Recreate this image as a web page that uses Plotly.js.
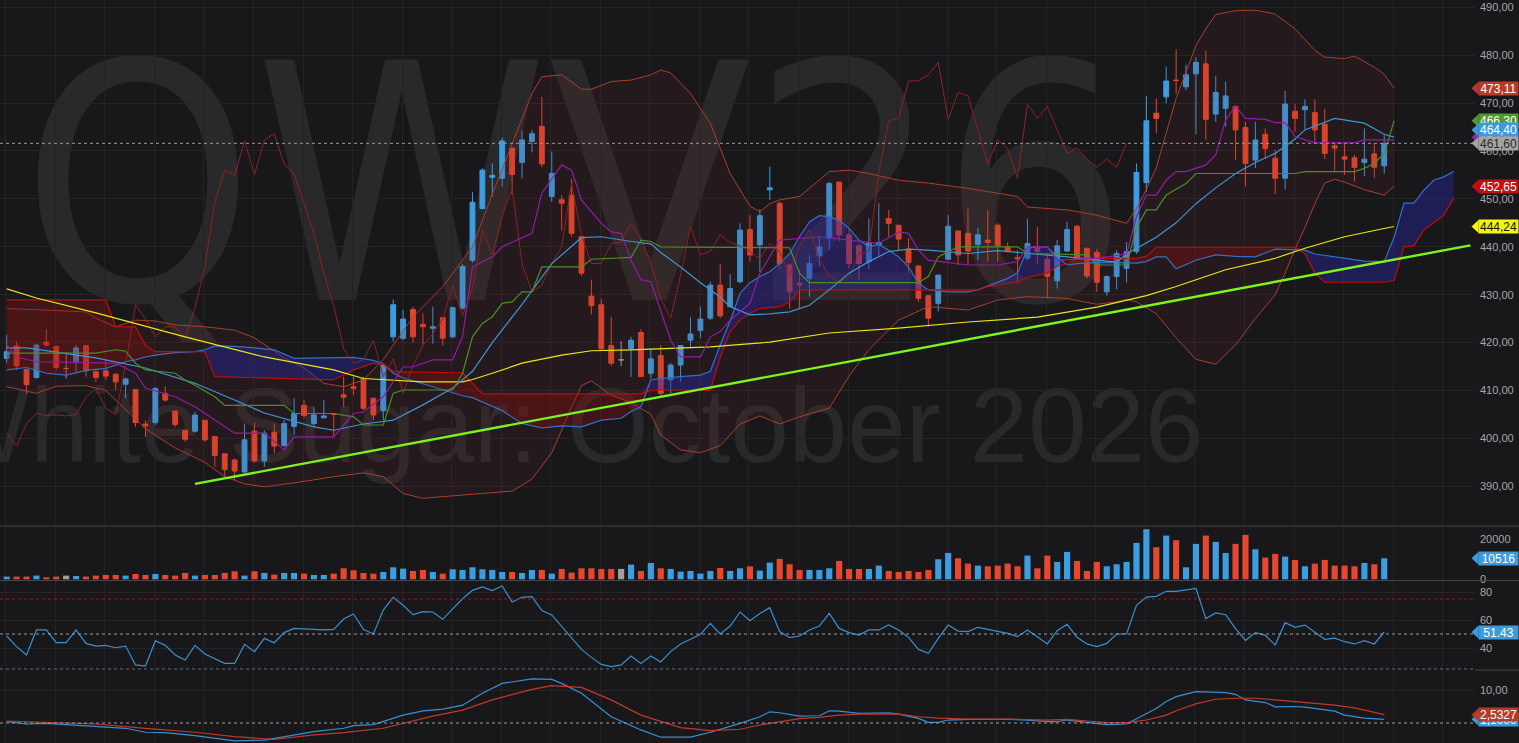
<!DOCTYPE html>
<html><head><meta charset="utf-8">
<script src="https://cdn.plot.ly/plotly-3.0.1.min.js"></script>
<style>html,body{margin:0;padding:0;background:#18181b;overflow:hidden}#chart{width:1519px;height:743px}</style>
</head><body><div id="chart"></div>
<script>
// ---------- DATA ----------
const opens=[416.7,419.3,414.4,412.7,420.1,419.2,414.6,416.0,419.4,413.9,
414.1,413.4,411.3,410.2,403.0,403.3,409.4,405.7,401.7,401.5,
403.8,400.4,396.8,395.5,393.0,401.5,395.3,401.3,398.5,402.5,
406.9,403.1,404.3,405.2,409.1,410.8,412.5,408.4,405.8,421.2,
420.9,426.9,423.8,423.0,425.2,421.2,427.2,437.2,448.0,454.5,
454.3,460.6,457.6,462.0,465.1,450.5,449.8,450.8,442.1,429.7,
427.9,419.4,416.4,418.8,422.1,413.6,417.3,412.2,415.3,420.5,
422.5,425.1,432.0,427.5,432.7,443.6,440.4,451.9,449.1,436.2,
432.4,433.4,438.1,441.8,453.5,442.5,440.2,436.9,440.4,445.9,
444.5,439.5,436.0,429.8,428.2,437.4,443.3,442.8,440.5,441.4,
444.5,439.9,437.8,437.6,439.7,437.4,432.9,439.1,444.3,439.7,
438.8,430.6,433.8,435.5,439.0,453.4,467.9,471.3,474.8,473.4,
476.1,478.2,467.7,468.9,469.3,464.9,458.1,463.5,458.5,454.3,
468.3,468.6,468.0,465.6,461.1,458.8,458.6,457.6,459.4,456.9];
const highs=[421.6,420.2,414.6,419.8,422.8,419.3,418.1,419.5,419.5,414.3,
416.4,413.6,412.7,410.2,403.8,410.7,410.9,405.7,401.7,405.6,
403.8,400.4,396.8,395.8,403.1,403.3,401.7,403.1,403.8,408.4,
408.0,406.5,408.0,405.2,412.9,412.9,412.9,408.4,415.7,429.0,
426.8,427.5,426.1,427.5,425.2,427.5,436.4,451.4,456.4,457.4,
462.8,460.6,464.2,464.4,471.3,459.9,450.8,454.2,442.1,433.1,
429.1,425.4,420.3,421.2,422.8,418.8,419.5,415.7,419.5,425.3,
427.5,432.7,436.4,434.3,444.9,446.6,447.8,456.7,449.4,436.5,
435.2,438.3,442.1,453.6,453.5,443.9,440.7,445.9,449.1,447.7,
444.5,441.8,436.2,429.8,434.1,446.6,443.3,448.0,443.9,447.7,
444.9,440.9,439.3,445.9,444.1,438.6,441.4,445.2,444.5,439.7,
439.5,434.0,439.3,441.0,457.4,471.5,471.0,477.6,481.2,478.0,
479.6,480.9,475.7,474.5,469.6,466.1,466.1,464.7,460.3,472.5,
469.8,470.8,470.8,468.8,461.6,461.5,459.2,464.7,461.6,463.3];
const lows=[415.7,414.3,409.4,412.5,419.2,414.3,412.5,413.9,412.9,411.8,
412.2,410.1,408.4,402.4,400.4,402.8,407.7,402.4,399.3,401.2,
399.3,394.1,392.0,391.3,392.8,394.9,394.1,396.9,398.3,400.7,
404.2,402.4,404.2,400.5,406.6,409.1,405.9,403.8,403.8,420.2,
420.5,420.0,419.5,419.8,419.3,420.9,426.8,436.7,447.8,450.5,
452.6,450.8,454.3,459.7,456.6,449.4,443.4,442.1,433.9,425.9,
418.5,415.1,415.1,412.8,412.8,412.5,408.7,409.4,411.8,419.0,
420.9,424.7,425.1,427.5,432.4,436.9,434.8,449.8,435.5,427.1,
427.1,429.6,435.8,439.3,441.1,435.5,433.1,435.2,437.9,442.1,
439.3,434.6,428.5,423.3,426.5,437.2,436.2,436.2,437.2,436.9,
436.9,439.0,432.4,437.2,436.5,429.2,431.3,439.0,437.2,433.4,
430.6,429.8,431.1,432.5,438.5,451.5,463.7,470.0,472.0,472.7,
463.5,462.4,466.1,465.1,458.1,452.6,456.4,458.3,451.0,451.9,
464.0,464.4,461.6,458.3,455.9,455.0,453.6,454.8,454.4,455.2];
const closes=[418.1,415.1,411.2,419.5,419.5,414.8,414.6,418.9,414.1,412.7,
413.0,411.8,412.4,403.3,402.6,410.4,408.0,402.9,399.8,404.9,
399.7,396.4,393.5,393.2,399.7,395.3,401.1,398.4,403.1,405.2,
404.8,404.9,404.7,405.0,408.6,410.4,406.3,404.9,415.3,427.9,
424.9,421.2,423.3,423.3,420.9,427.3,435.9,449.3,456.0,454.9,
462.1,455.1,462.3,463.6,457.3,455.3,449.1,442.8,434.5,427.7,
418.7,415.7,416.4,420.5,412.9,416.6,409.4,415.3,419.4,421.8,
424.9,432.0,425.6,431.3,443.5,438.3,446.5,452.3,436.5,430.6,
432.0,436.5,440.0,453.2,442.5,436.5,436.5,440.7,440.9,444.9,
441.6,436.7,429.2,425.1,434.1,444.3,438.3,439.1,442.5,440.9,
440.2,439.0,437.5,440.7,439.0,433.8,440.2,443.6,437.4,433.9,
432.6,433.8,438.6,439.0,455.5,466.3,466.8,474.6,474.7,475.9,
478.5,466.6,472.2,471.5,464.4,457.4,462.3,460.5,454.3,469.8,
466.8,469.3,464.4,459.5,460.6,458.3,456.6,458.3,456.6,461.6];
const volumes=[1340,1340,1340,1840,1000,1340,1840,1670,1340,1840,
2170,2170,1840,2670,2170,2670,2170,1840,3170,1840,
2170,2170,3170,4010,1840,4010,3170,2340,3170,3170,
2840,2170,2170,2840,5510,4510,3170,2840,3670,6010,
5340,4180,4680,3670,2840,5010,4680,6010,5010,4680,
3670,3670,3170,4680,4680,2840,5180,3340,5510,5510,
5180,5180,5180,7350,4180,8180,5510,5180,3840,4180,
2840,4180,5680,4180,5510,6510,4340,8350,10190,7520,
4680,4680,4680,5510,9190,5180,5180,5180,6850,4180,
3670,4180,3670,4680,10020,13190,10520,7850,6850,6510,
6850,7850,6510,11860,5510,11860,8680,13690,9190,4180,
8680,6510,7520,8680,18200,25050,16030,21880,19540,6010,
17700,21880,18700,13190,17700,22210,15030,10860,12690,11360,
9690,6510,7850,9690,6850,6850,6510,8180,7520,10516];
// lagging span (drawn 26 bars back)
const chikouValues=[401.1,398.4,403.1,405.2,404.8,404.9,404.7,405.0,408.6,410.4,
406.3,404.9,415.3,427.9,424.9,421.2,423.3,423.3,420.9,427.3,
435.9,449.3,456.0,454.9,462.1,455.1,462.3,463.6,457.3,455.3,
449.1,442.8,434.5,427.7,418.7,415.7,416.4,420.5,412.9,416.6,
409.4,415.3,419.4,421.8,424.9,432.0,425.6,431.3,443.5,438.3,
446.5,452.3,436.5,430.6,432.0,436.5,440.0,453.2,442.5,436.5,
436.5,440.7,440.9,444.9,441.6,436.7,429.2,425.1,434.1,444.3,
438.3,439.1,442.5,440.9,440.2,439.0,437.5,440.7,439.0,433.8,
440.2,443.6,437.4,433.9,432.6,433.8,438.6,439.0,455.5,466.3,
466.8,474.6,474.7,475.9,478.5,466.6,472.2,471.5,464.4,457.4,
462.3,460.5,454.3,469.8,466.8,469.3,464.4,459.5,460.6,458.3,
456.6,458.3,456.6,461.6];
const rsiValues=[48.6,41.0,35.0,52.9,52.9,43.8,43.8,52.9,43.3,41.4,
41.9,40.2,41.4,27.9,27.1,45.2,41.9,35.0,31.4,41.9,
35.7,32.6,29.0,29.0,42.6,37.4,46.9,43.8,51.0,54.0,
53.6,53.6,52.9,53.3,60.7,64.3,53.3,50.0,67.1,76.2,
70.5,63.8,66.0,65.7,60.5,67.9,75.2,81.2,83.6,81.0,
84.3,72.9,76.2,76.7,66.7,63.6,55.2,47.4,39.0,33.3,
28.3,26.7,27.9,34.3,29.0,34.3,30.0,37.4,42.9,46.2,
49.8,57.6,50.0,55.7,65.7,59.5,64.6,68.8,51.7,47.4,
48.6,52.9,55.7,64.8,54.0,51.0,49.3,52.9,52.9,56.4,
52.9,47.6,39.0,36.2,46.9,56.4,52.1,51.7,54.8,53.3,
51.9,50.5,48.1,52.9,48.1,42.9,52.4,56.9,47.6,42.9,
41.0,43.3,50.0,50.0,70.5,76.4,76.9,80.5,80.5,81.4,
82.6,61.0,65.0,63.8,53.8,45.5,51.0,49.0,42.1,58.1,
54.8,56.4,51.2,46.2,47.1,44.5,42.9,45.2,42.9,51.43];
const macdIdx=[0,2,4,7,9,12,14,16,19,21,23,26,29,31,34,35,37,38,40,42,44,46,48,50,53,55,56,58,61,64,66,69,71,74,76,77,78,80,82,83,84,86,88,89,90,92,93,94,95,97,101,103,105,106,107,109,111,113,115,116,117,118,120,121,123,124,125,127,128,130,131,134,135,137,139];
const macdValues=[0.4,-0.3,-0.1,-0.6,-1.1,-1.6,-2.8,-2.9,-3.8,-4.6,-5.4,-5.2,-3.6,-2.6,-1.6,-0.8,-0.5,0.4,2.4,3.7,4.2,5.4,9.0,12.0,13.4,13.2,12.0,9.0,1.9,-2.1,-4.3,-4.3,-2.8,-0.1,1.9,3.4,3.1,2.1,2.2,3.7,3.6,2.9,2.9,3.1,2.7,1.4,0.2,0.2,0.9,1.1,1.1,0.9,0.4,0.4,0.9,0.2,-0.5,-0.3,2.9,4.4,6.5,8.0,9.5,9.4,9.2,8.7,7.0,6.2,4.9,5.0,4.8,3.6,2.4,1.5,1.1];
const signalIdx=[0,4,9,14,19,23,27,31,34,38,41,43,46,49,53,55,58,61,64,68,71,74,76,78,80,82,84,86,88,90,92,94,97,101,105,107,109,111,113,115,117,118,120,122,124,126,128,131,134,136,138,139];
const signalValues=[0.6,0.1,-0.3,-1.6,-2.8,-4.1,-5.0,-3.6,-2.9,-1.6,0.7,2.1,3.9,7.0,10.2,11.3,10.8,7.0,2.4,-1.4,-2.3,-1.9,-0.6,0.4,1.3,1.7,2.4,2.7,2.8,2.7,1.9,1.5,1.2,1.2,0.9,1.1,0.6,0.1,0.1,0.9,2.4,3.7,5.8,7.2,7.5,7.5,7.0,6.3,5.4,4.6,3.1,2.53];
const bbUpIdx=[0,3,5,8,9,11,13,15,17,20,23,25,28,30,32,34,36,38,41,44,47,49,51,53,54,56,58,59,61,63,65,66,67,69,71,73,75,76,77,78,80,83,85,87,90,93,97,100,102,103,107,110,113,114,115,116,117,118,119,120,121,122,124,126,128,130,132,133,135,136,138,139,140];
const bbUpValues=[427.1,426.9,426.7,426.4,425.1,423.3,424.7,424.5,423.7,423.3,422.6,421.0,416.8,414.7,411.5,410.8,412.2,416.5,425.4,431.7,440.0,451.0,461.6,472.0,475.5,475.9,472.9,472.9,474.5,474.8,475.9,476.9,476.3,472.0,465.8,455.3,448.5,447.3,449.0,449.8,450.5,455.7,456.0,455.3,453.9,453.3,452.2,451.2,450.5,448.3,447.7,446.6,444.9,448.0,452.0,456.5,464.0,471.0,476.5,482.0,485.5,488.5,489.3,489.4,488.6,485.5,481.0,479.6,479.3,479.8,477.5,476.0,473.11];
const bbLoIdx=[0,3,5,8,10,12,14,17,20,22,24,26,29,33,36,38,40,42,45,48,51,53,55,57,58,59,61,63,65,66,68,70,72,74,76,78,80,83,85,87,90,93,97,100,103,107,110,112,113,114,116,118,120,122,124,126,127,128,129,130,131,132,133,134,135,136,137,139,140];
const bbLoValues=[410.8,409.4,410.9,411.0,410.0,406.0,402.0,398.0,395.0,392.0,390.5,389.9,390.7,392.0,392.8,392.0,388.5,387.5,388.0,388.5,389.0,391.5,397.0,406.5,411.0,412.0,409.0,407.5,405.0,400.7,397.6,397.0,398.5,403.0,404.7,403.0,404.5,406.3,413.0,418.5,424.7,427.5,426.8,428.9,429.6,429.2,428.0,428.5,429.0,428.5,426.0,421.0,416.5,415.5,419.5,425.0,427.5,430.0,434.5,439.5,444.0,449.0,453.3,454.1,453.5,452.7,451.9,450.8,452.65];
const smaIdx=[0,2,5,9,14,19,23,26,31,33,36,39,42,45,47,49,52,55,58,60,63,65,66,68,70,71,72,73,75,77,79,81,83,85,87,89,91,93,97,100,103,107,110,112,113,116,118,120,122,124,126,128,130,131,134,137,139,140];
const smaValues=[418.9,418.9,418.0,416.8,414.7,411.5,408.0,405.3,402.4,401.7,403.0,403.8,407.0,410.5,414.0,420.0,428.0,436.5,441.9,442.1,441.1,440.6,438.8,435.8,432.5,431.0,429.5,427.5,425.8,426.0,426.4,427.8,431.0,434.5,436.9,439.0,439.5,439.3,438.6,439.2,438.7,437.9,437.2,436.8,438.5,442.0,445.0,449.0,452.3,455.3,457.6,459.5,462.5,464.4,466.8,465.8,463.5,462.9];
const tenkanIdx=[0,1,3,11,13,14,17,19,23,26,28,29,33,35,36,38,40,41,43,45,46,47,49,50,53,54,56,57,58,60,61,62,63,64,65,67,68,70,71,72,73,75,76,77,78,82,85,88,90,91,92,93,97,100,102,103,105,106,110,113,114,115,116,117,118,119,121,122,123,124,125,127,128,129,130,132,136,137,140];
const tenkanValues=[419.5,417.0,416.0,415.7,413.6,410.5,408.7,406.6,401.1,401.1,397.6,400.3,400.3,405.2,405.5,408.7,414.9,414.9,416.4,416.4,421.2,435.8,437.9,440.0,442.8,451.2,457.1,456.0,449.8,444.9,443.1,442.8,437.2,433.1,432.7,420.5,417.0,417.0,421.2,422.3,424.7,428.2,434.5,437.9,441.4,442.1,441.4,440.7,443.1,442.8,439.3,437.2,436.2,436.2,436.9,440.0,440.0,437.2,437.6,438.5,446.3,450.8,450.8,453.9,455.7,455.7,457.1,459.2,466.5,469.4,466.8,466.6,465.9,465.9,463.0,461.7,461.7,462.3,462.3];
const kijunIdx=[0,9,11,12,13,14,17,18,19,21,22,28,29,33,35,36,38,39,40,45,46,47,48,49,50,51,52,53,54,58,59,63,64,65,66,79,80,81,92,93,94,96,102,103,109,110,113,114,115,116,117,119,120,130,131,136,137,138,139,140];
const kijunValues=[417.8,417.8,418.5,418.2,415.7,414.3,413.6,412.2,411.1,408.7,406.9,406.9,405.2,405.2,404.5,402.8,402.8,409.4,410.1,410.1,413.6,421.2,424.0,425.4,428.2,428.5,430.6,430.6,435.8,435.8,437.4,437.8,441.4,441.1,440.0,439.8,434.5,432.5,432.5,433.8,437.9,440.0,440.0,438.6,438.3,436.2,436.2,444.0,447.7,447.7,450.8,453.2,455.3,455.3,455.7,455.7,456.4,457.4,459.5,466.3];
const longMaIdx=[0,3,9,18,26,33,36,39,42,46,47,49,52,56,59,63,68,71,77,83,90,97,104,110,115,118,123,128,131,135,138,140];
const longMaValues=[431.2,429.3,426.2,421.2,417.0,414.3,412.5,412.2,411.8,411.8,412.3,413.6,415.7,417.4,418.3,418.5,418.8,419.1,420.1,422.0,423.0,424.3,425.3,427.4,429.8,431.7,435.2,437.6,439.7,442.1,443.4,444.24];
const cloudIdx=[0,2,4,6,8,10,11,12,13,14,15,17,19,20,21,23,25,27,29,31,33,35,37,38,39,40,42,44,46,47,48,50,52,54,56,58,60,62,63,64,65,66,68,70,71,72,73,74,75,76,77,78,79,80,81,82,83,84,85,86,87,88,89,90,91,92,93,95,97,98,99,100,101,102,103,104,105,106,107,108,110,112,113,114,115,116,117,118,120,122,124,126,128,130,131,132,133,135,137,139,140,141,142,143,144,145,146];
const spanA=[414.3,414.8,413.6,413.2,414.2,414.6,415.3,416.0,416.4,417.0,417.4,417.9,418.1,418.5,419.3,419.2,418.9,418.5,416.7,416.8,416.9,416.9,416.3,415.6,413.6,412.6,411.4,410.1,408.9,408.5,407.6,405.8,403.1,402.2,402.6,402.4,403.8,404.2,405.6,406.6,412.2,412.5,412.9,413.2,414.0,419.5,424.5,430.3,432.5,433.8,434.8,436.5,438.6,442.1,445.2,446.5,446.3,445.5,443.9,441.4,440.0,440.5,439.3,437.9,435.8,432.4,431.0,430.6,430.6,431.0,431.8,432.6,433.4,434.5,439.7,440.0,440.0,437.9,436.2,436.5,436.7,436.7,436.7,436.6,436.9,437.9,437.9,435.4,437.2,438.3,438.0,437.9,439.5,439.3,439.3,438.5,438.2,437.6,437.0,436.9,442.0,449.1,449.1,451.8,453.9,454.6,455.7];
const spanB=[428.9,428.9,428.9,428.9,428.9,428.9,423.3,423.3,423.3,419.5,
418.1,418.1,418.1,418.1,412.9,412.8,412.7,412.6,412.5,412.4,
412.2,414.3,415.7,415.5,414.0,413.9,413.8,413.8,413.7,411.5,
409.3,409.3,409.3,409.3,409.3,409.3,409.3,409.3,409.3,409.3,
410.0,410.1,410.1,410.1,410.0,417.0,422.3,424.7,426.1,427.1,
427.3,427.5,428.5,431.0,431.0,431.0,431.0,431.0,431.0,431.0,
431.0,431.0,431.0,431.0,431.0,431.0,431.0,431.0,431.0,431.0,
431.7,432.0,432.4,432.7,433.6,434.0,434.5,436.0,436.4,437.6,
437.6,437.6,437.6,437.6,438.0,439.9,439.9,439.9,439.9,439.9,
439.9,439.9,439.9,439.9,438.6,434.5,432.6,432.6,432.6,432.6,
433.0,440.0,440.2,443.5,445.0,446.6,450.1];
const trendIdx=[19.0,147.7];
const trendValues=[390.5,440.3];
const lastPrice=461.60;
const priceTicks=[390,400,410,420,430,440,450,460,470,480,490];
const priceTickText=['390,00','400,00','410,00','420,00','430,00','440,00','450,00','460,00','470,00','480,00','490,00'];
const volTicks=[0,20000], volTickText=['0','20000'];
const rsiTicks=[40,60,80];
const macdTicks=[10], macdTickText=['10,00'];
// right-hand value tags: [value, text, background, text colour]
const priceTags=[[473.11,'473,11','#b83b27','#ffffff'],[466.30,'466,30','#4f9a2d','#ffffff'],[462.88,'462,88','#8d2aa6','#ffffff'],[464.40,'464,40','#3b9bdb','#ffffff'],[461.60,'461,60','#a4a4a4','#2a2a2a'],[452.65,'452,65','#c51010','#ffffff'],[444.24,'444,24','#f4f40c','#111111']];
const volTag=[10516,'10516','#3b9bdb'];
const rsiTag=[51.43,'51.43','#3b9bdb'];
const macdTags=[[1.1,'1,1000','#3b9bdb'],[2.5327,'2,5327','#b83b27']];
const watermarkTicker='QWV26';
const watermarkName='White Sugar: October 2026';

// ---------- CHART ----------
const UP='#3c9de0', DN='#e5482e', DOJI='#a0a0a0';
const FONT='"Liberation Sans", Arial, sans-serif';
const idx=closes.map((_,i)=>i);
const nI=[],nO=[],nH=[],nL=[],nC=[],dI=[],dO=[],dH=[],dL=[],dC=[];
idx.forEach(i=>{ if(opens[i]===closes[i]){dI.push(i);dO.push(opens[i]);dH.push(highs[i]);dL.push(lows[i]);dC.push(closes[i]);}
 else {nI.push(i);nO.push(opens[i]);nH.push(highs[i]);nL.push(lows[i]);nC.push(closes[i]);}});
const volColors=idx.map(i=>closes[i]>opens[i]?UP:(closes[i]<opens[i]?DN:DOJI));
const cloudHi=spanA.map((a,i)=>Math.max(a,spanB[i]));

function line(x,y,color,width,yaxis,extra){return Object.assign({type:'scatter',mode:'lines',x:x,y:y,line:{color:color,width:width},xaxis:'x',yaxis:yaxis||'y',hoverinfo:'skip'},extra||{});}

const traces=[
 line(bbLoIdx,bbLoValues,'#a8402c',1),
 line(bbUpIdx,bbUpValues,'#a8402c',1,'y',{fill:'tonexty',fillcolor:'rgba(120,40,40,0.13)'}),
 line(cloudIdx,spanB,'rgba(0,0,0,0)',0),
 line(cloudIdx,cloudHi,'rgba(0,0,0,0)',0,'y',{fill:'tonexty',fillcolor:'rgba(40,40,165,0.42)'}),
 line(cloudIdx,spanA,'rgba(0,0,0,0)',0),
 line(cloudIdx,cloudHi,'rgba(0,0,0,0)',0,'y',{fill:'tonexty',fillcolor:'rgba(150,15,15,0.33)'}),
 line(cloudIdx,spanA,'#3470c8',1.2),
 line(cloudIdx,spanB,'#c00d0d',1.2),
 line(idx.slice(0,chikouValues.length),chikouValues,'#8e2222',1),
 line(longMaIdx,longMaValues,'#e8e814',1.2),
 line(smaIdx,smaValues,'#3d96d6',1.2),
 line(kijunIdx,kijunValues,'#4a8e2a',1.2),
 line(tenkanIdx,tenkanValues,'#8f1fa6',1.2),
 {type:'candlestick',x:nI,open:nO,high:nH,low:nL,close:nC,xaxis:'x',yaxis:'y',whiskerwidth:0,
  increasing:{line:{color:UP,width:1},fillcolor:UP},decreasing:{line:{color:DN,width:1},fillcolor:DN},hoverinfo:'skip'},
 {type:'candlestick',x:dI,open:dO,high:dH,low:dL,close:dC,xaxis:'x',yaxis:'y',whiskerwidth:0,
  increasing:{line:{color:DOJI,width:1},fillcolor:DOJI},decreasing:{line:{color:DOJI,width:1},fillcolor:DOJI},hoverinfo:'skip'},
 line(trendIdx,trendValues,'#7cf51c',2.4),
 {type:'bar',x:idx,y:volumes,marker:{color:volColors,line:{width:0}},width:0.62,xaxis:'x',yaxis:'y2',hoverinfo:'skip'},
 line(idx,rsiValues,'#3a8fd0',1.2,'y3'),
 line(macdIdx,macdValues,'#3a8fd0',1.2,'y4'),
 line(signalIdx,signalValues,'#c0392b',1.2,'y4')
];

const W=1475; // plot-area width in px
const shapes=[
 {type:'rect',xref:'paper',yref:'paper',x0:18/W,x1:1130/W,y0:1-312/743,y1:1-12/743,line:{width:0},fillcolor:'rgba(0,0,0,0)',layer:'below',
  label:{text:watermarkTicker,font:{family:'"Liberation Sans Narrow","Arial Narrow","DejaVu Sans Condensed",sans-serif',size:330,color:'rgba(255,255,255,0.075)'},textposition:'middle left',padding:0}},
 {type:'rect',xref:'paper',yref:'paper',x0:-72/W,x1:1260/W,y0:1-472/743,y1:1-358/743,line:{width:0},fillcolor:'rgba(0,0,0,0)',layer:'below',
  label:{text:watermarkName,font:{family:FONT,size:105,color:'rgba(255,255,255,0.075)'},textposition:'middle left',padding:0}},
 {type:'line',xref:'paper',yref:'paper',x0:0,x1:1519/W,y0:1-526/743,y1:1-526/743,line:{color:'#46464a',width:1}},
 {type:'line',xref:'paper',yref:'paper',x0:0,x1:1519/W,y0:1-580.5/743,y1:1-580.5/743,line:{color:'#46464a',width:1}},
 {type:'line',xref:'paper',yref:'paper',x0:1,x1:1519/W,y0:1-670/743,y1:1-670/743,line:{color:'#46464a',width:1}},
 {type:'line',xref:'paper',yref:'y',x0:0,x1:1,y0:lastPrice,y1:lastPrice,line:{color:'#9a9a9a',width:1,dash:'3px,3px'}},
 {type:'line',xref:'paper',yref:'y3',x0:0,x1:1,y0:75,y1:75,line:{color:'#b31212',width:1,dash:'3px,3px'}},
 {type:'line',xref:'paper',yref:'y3',x0:0,x1:1,y0:50,y1:50,line:{color:'#9a9a9a',width:1,dash:'3px,3px'}},
 {type:'line',xref:'paper',yref:'y3',x0:0,x1:1,y0:25,y1:25,line:{color:'#5f6f8a',width:1,dash:'3px,3px'}},
 {type:'line',xref:'paper',yref:'y4',x0:0,x1:1,y0:0,y1:0,line:{color:'#9a9a9a',width:1,dash:'3px,3px'}}
];
const annotations=[];
function tag(yref,v,text,bg,fg){
 shapes.push({type:'path',xref:'paper',yref:yref,xsizemode:'pixel',ysizemode:'pixel',xanchor:1,yanchor:v,path:'M 3.5,6.5 L -3.5,0 L 3.5,-6.5 Z',fillcolor:bg,line:{width:0},layer:'above'});
 annotations.push({xref:'paper',x:1,xshift:3,xanchor:'left',yref:yref,y:v,yanchor:'middle',text:text,showarrow:false,bgcolor:bg,
  font:{family:FONT,size:12,color:fg},width:39,height:13,borderpad:0,align:'center'});
}
priceTags.forEach(t=>tag('y',t[0],t[1],t[2],t[3]));
tag('y2',volTag[0],volTag[1],volTag[2],'#ffffff');
tag('y3',rsiTag[0],rsiTag[1],rsiTag[2],'#ffffff');
macdTags.forEach(t=>tag('y4',t[0],t[1],t[2],'#ffffff'));

const tickFont={family:FONT,size:11,color:'#a6a6a6'};
const yBase={side:'right',anchor:'x',zeroline:false,showline:false,ticks:'',tickfont:tickFont,gridcolor:'#252528',gridwidth:1,fixedrange:true,ticklabelstandoff:4};
const layout={
 width:1519,height:743,margin:{l:0,r:1519-W,t:0,b:0},
 paper_bgcolor:'#18181b',plot_bgcolor:'#18181b',showlegend:false,hovermode:false,
 xaxis:{domain:[0,1],range:[-0.676,148.16],showgrid:true,gridcolor:'#232326',tick0:-0.1,dtick:5,showticklabels:false,ticks:'',zeroline:false,showline:false,rangeslider:{visible:false},anchor:'y4',fixedrange:true},
 yaxis:Object.assign({},yBase,{domain:[1-525/743,1],range:[381.92,491.52],tickmode:'array',tickvals:priceTicks,ticktext:priceTickText}),
 yaxis2:Object.assign({},yBase,{domain:[1-580/743,1-527/743],range:[-350,26150],tickmode:'array',tickvals:volTicks,ticktext:volTickText,showgrid:false}),
 yaxis3:Object.assign({},yBase,{domain:[1-670/743,1-581/743],range:[24.29,87.86],tickmode:'array',tickvals:rsiTicks}),
 yaxis4:Object.assign({},yBase,{domain:[0,1-671/743],range:[-6.06,15.76],tickmode:'array',tickvals:macdTicks,ticktext:macdTickText}),
 shapes:shapes,annotations:annotations,
 font:{family:FONT,color:'#a6a6a6'}
};
Plotly.newPlot('chart',traces,layout,{staticPlot:true,displayModeBar:false});
</script></body></html>
